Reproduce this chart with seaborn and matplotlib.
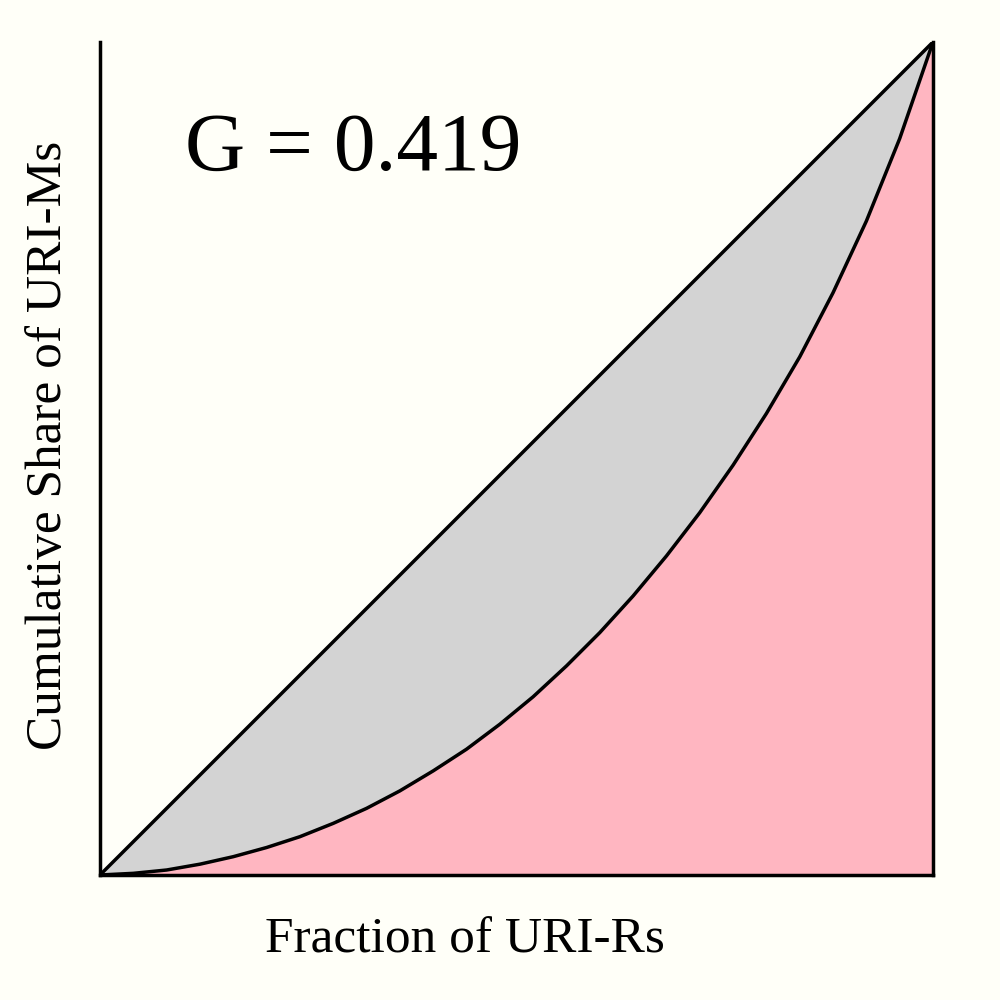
import numpy as np
import pandas as pd
import seaborn as sns
import matplotlib
matplotlib.use("Agg")
import matplotlib.pyplot as plt

# Lorenz curve data
frac_rs = [0.0, 0.04, 0.08, 0.12, 0.16, 0.20, 0.24, 0.28, 0.32, 0.36, 0.40,
           0.44, 0.48, 0.52, 0.56, 0.60, 0.64, 0.68, 0.72, 0.76, 0.80,
           0.84, 0.88, 0.92, 0.96, 1.0]
share_ms = [0.0, 0.002, 0.006, 0.013, 0.022, 0.033, 0.046, 0.062, 0.080, 0.101, 0.125,
            0.151, 0.181, 0.214, 0.251, 0.291, 0.335, 0.383, 0.435, 0.492, 0.554,
            0.622, 0.699, 0.785, 0.884, 1.0]
equality = [0.0, 1.0]
gini_text = "G = 0.419"
xlabel = "Fraction of URI-Rs"
ylabel = "Cumulative Share of URI-Ms"

bg = "#fffff8"
sns.set_theme(style="white")
plt.rcParams["font.family"] = ["Liberation Serif", "DejaVu Serif"]

fig = plt.figure(figsize=(10, 10), dpi=100, facecolor=bg)
ax = fig.add_axes([0.1, 0.125, 0.833, 0.833])
ax.set_facecolor(bg)

df = pd.DataFrame({"x": frac_rs, "y": share_ms})
ax.fill_between(equality, equality, [0, 0], color="#d3d3d3", lw=0, zorder=1)
ax.fill_between(df["x"], df["y"], 0, color="#ffb6c1", lw=0, zorder=2)
sns.lineplot(x=equality, y=equality, ax=ax, color="black", lw=2.5, zorder=3)
line = sns.lineplot(data=df, x="x", y="y", ax=ax, color="black", lw=2.5, zorder=3,
                    estimator=None, sort=False)
for l in ax.get_lines():
    l.set_solid_joinstyle("round")
    l.set_solid_capstyle("round")

ax.set_xlim(0, 1)
ax.set_ylim(0, 1)
ax.margins(0)
ax.set_xticks([])
ax.set_yticks([])
for s in ["left", "bottom", "right"]:
    ax.spines[s].set_visible(True)
    ax.spines[s].set_color("black")
    ax.spines[s].set_linewidth(2.5)
ax.spines["top"].set_visible(False)

ax.text(0.102, 0.846, gini_text, transform=ax.transAxes, fontsize=60,
        ha="left", va="baseline", color="black")

ax.set_xlabel(xlabel, fontsize=37, color="black")
ax.set_ylabel(ylabel, fontsize=37, color="black")
ax.xaxis.set_label_coords((465 - 100) / 833, -0.050)
ax.yaxis.set_label_coords(-0.034, (875 - 445) / 833)

fig.savefig("out.png", dpi=100, facecolor=bg)
